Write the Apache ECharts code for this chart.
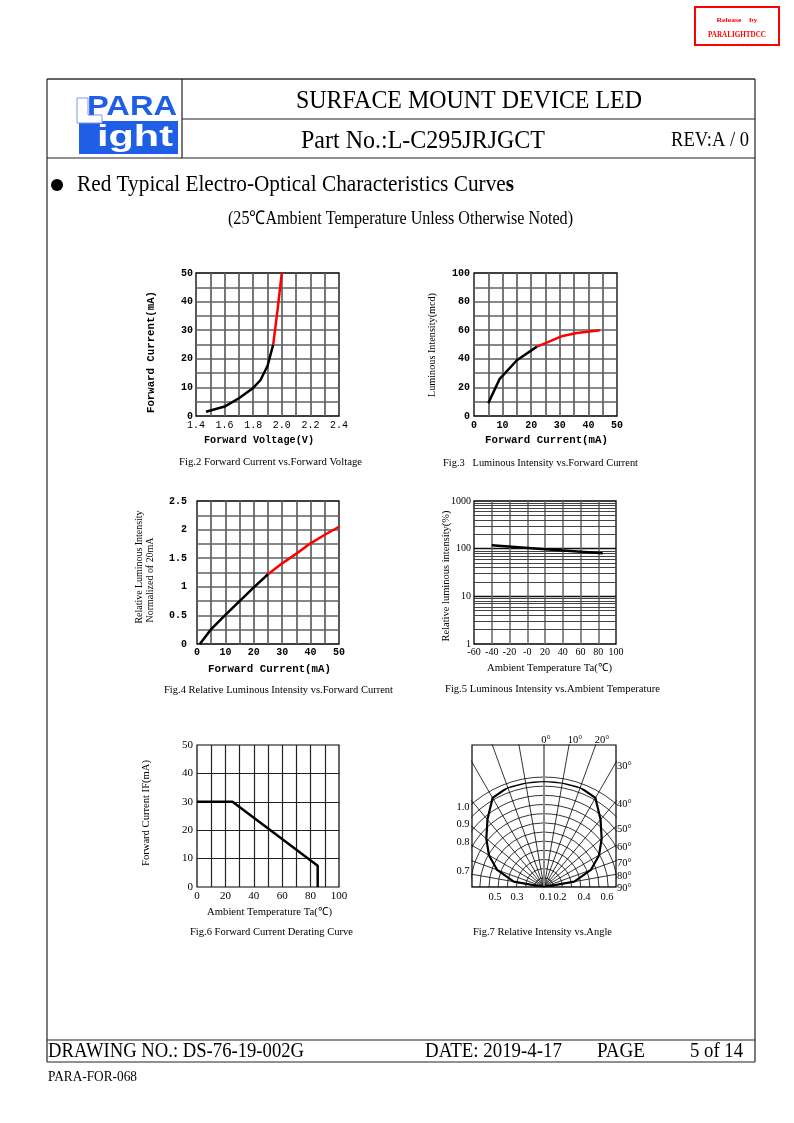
<!DOCTYPE html>
<html><head><meta charset="utf-8"><title>L-C295JRJGCT</title>
<script src="https://cdn.jsdelivr.net/npm/echarts@6/dist/echarts.min.js"></script>
<style>html,body{margin:0;padding:0;background:#fff;}#c{width:794px;height:1123px;}</style>
</head><body><div id="c"></div>
<script>
// ---------------- data ----------------
const fig2Black = [[1.47,1.5],[1.6,3.3],[1.7,6.2],[1.8,9.8],[1.85,12.5],[1.9,17.5],[1.94,25]];
const fig2Red = [[1.94,25],[1.97,37],[2.0,50]];
const fig3Black = [[5,9],[9,26],[15,39],[22,48.5]];
const fig3Red = [[22,48.5],[25,51],[31,56],[36,58],[44,60]];
const fig4Black = [[1,0],[5,0.26],[10,0.51],[15,0.75],[20,0.99],[25,1.22]];
const fig4Red = [[25,1.22],[30,1.41],[35,1.58],[40,1.76],[45,1.91],[50,2.05]];
const fig5Temp = [-40, 20, 85];
const fig5Intensity = [118, 97, 80];
const fig5MinorLines = [2,3,4,5,6,7,8,9,20,30,40,50,60,70,80,90,200,300,400,500,600,700,800,900];
const fig5XLabels = ['-60','-40','-20','-0','20','40','60','80','100'];
const fig5YLabels = ['1','10','100','1000'];
const fig6Temp = [0, 25, 85, 85];
const fig6Current = [30, 30, 7.5, 0];
const fig7Angles = [-90,-80,-70,-60,-50,-40,-30,-20,-10,0,10,20,30,40,50,60,70,80,90];
const fig7Intensity = [0,0.29,0.47,0.6,0.71,0.83,0.97,1,1,1,1,1,0.97,0.83,0.71,0.6,0.47,0.29,0];
const fig7TopLabels = ['0°','10°','20°'];
const fig7RightLabels = ['30°','40°','50°','60°','70°','80°','90°'];
const fig7LeftLabels = ['1.0','0.9','0.8','0.7'];
const fig7BottomLabels = ['0.5','0.3','0.1','0.2','0.4','0.6'];

// ---------------- helpers ----------------
const SERIF = '"Liberation Serif","Times New Roman",serif';
const MONO = '"Liberation Mono","DejaVu Sans Mono",monospace';
const SANS = '"Liberation Sans",Arial,sans-serif';
const mctx = document.createElement('canvas').getContext('2d');
function mw(t, f){ mctx.font = f; return mctx.measureText(t).width; }
function T(text, x, y, o){
  o = o || {};
  const size = o.size || 11, fam = o.fam || SERIF, wt = o.wt || 'normal';
  const font = wt + ' ' + size + 'px ' + fam;
  const sx = o.w ? o.w / mw(text, font) : 1;
  const al = o.align || 'center';
  return {type:'text', x:x, y:y, rotation:o.rot||0, scaleX:sx, z:100, silent:true,
    style:{text:text, font:font, fill:o.color||'#000', align:al, textAlign:al,
      verticalAlign:'middle', textVerticalAlign:'middle'}};
}
function L(x1,y1,x2,y2,w,c){
  return {type:'line', z:100, silent:true, shape:{x1:x1,y1:y1,x2:x2,y2:y2}, style:{stroke:c||'#222', lineWidth:w||1}};
}
function R(x,y,w,h,st,z){ return Object.assign({type:'rect', z:z||100, silent:true, shape:{x:x,y:y,width:w,height:h}}, {style:st}); }

function ax(gi, min, max, interval, o){
  o = o || {};
  const ls = {color:o.lc||'#606060', width:o.lw||1.7};
  return {gridIndex:gi, type:o.type||'value', min:min, max:max, interval:interval, logBase:o.logBase,
    axisLine:{show:false}, axisTick:{show:false},
    axisLabel:{show:true, color:'#000', fontFamily:o.fam||MONO, fontSize:o.fs||10, fontWeight:o.fw||'normal',
      margin:(o.margin==null?4:o.margin), formatter:o.fmt, hideOverlap:false, showMinLabel:true, showMaxLabel:true},
    splitLine:{show:true, showMinLine:false, showMaxLine:false, lineStyle:ls},
    minorTick:{show:false, splitNumber:o.minor||5},
    minorSplitLine:{show:!!o.minor, lineStyle:ls}
  };
}
function ser(gi, data, color, w, z){
  return {type:'line', xAxisIndex:gi, yAxisIndex:gi, data:data, symbol:'none', silent:true,
    lineStyle:{color:color, width:w||2.5}, z:z||5};
}
const zip = (a,b) => a.map((v,i)=>[v,b[i]]);

const gridBase = {show:true, borderColor:'#000', borderWidth:1.3, backgroundColor:'transparent', containLabel:false};
const grids = [
  Object.assign({left:196, top:273, width:143, height:143}, gridBase),
  Object.assign({left:474, top:273, width:143, height:143}, gridBase),
  Object.assign({left:197, top:501, width:142, height:143}, gridBase),
  Object.assign({left:474, top:501, width:142, height:143}, gridBase),
  Object.assign({left:197, top:745, width:142, height:142}, Object.assign({}, gridBase, {borderWidth:1.2}))
];

const xAxes = [
  ax(0, 1.4, 2.4, 0.2, {minor:2, fmt:v=>v.toFixed(1), margin:4}),
  ax(1, 0, 50, 10, {minor:2, fw:'bold', margin:4}),
  ax(2, 0, 50, 10, {minor:2, fw:'bold', margin:3}),
  ax(3, -60, 100, 20, {fam:SERIF, fs:10, margin:3, lc:'#666', lw:1.5, fmt:v=>fig5XLabels[Math.round((v+60)/20)]}),
  ax(4, 0, 100, 20, {minor:2, fam:SERIF, fs:11, margin:4, lc:'#222', lw:1.2})
];
const yAxes = [
  ax(0, 0, 50, 10, {minor:2, fw:'bold', margin:3}),
  ax(1, 0, 100, 20, {minor:2, fw:'bold', margin:4}),
  ax(2, 0, 2.5, 0.5, {minor:2, fw:'bold', margin:10}),
  ax(3, 1, 1000, undefined, {type:'log', logBase:10, fam:SERIF, fs:10, margin:3, lc:'#111', lw:1.4,
    fmt:v=>fig5YLabels[Math.round(Math.log10(v))]}),
  ax(4, 0, 50, 10, {fam:SERIF, fs:11, margin:4, lc:'#222', lw:1.2})
];

// ---------------- polar (Fig.7) ----------------
const PC = [544, 887];
const polar = [
  {center:PC, radius:160},   // radial lines
  {center:PC, radius:110},   // concentric arcs
  {center:PC, radius:106}    // intensity curve (1.0 = outer)
];
const angleAxis = [0,1,2].map(i => ({polarIndex:i, type:'value', min:-90, max:90, interval:10,
  startAngle:180, endAngle:0, clockwise:true,
  axisLine:{show:false}, axisTick:{show:false}, axisLabel:{show:false},
  splitLine:{show:i===0, lineStyle:{color:'#000', width:0.8}}}));
const radiusAxis = [
  {polarIndex:0, min:0, max:1, axisLine:{show:false}, axisTick:{show:false}, axisLabel:{show:false}, splitLine:{show:false}},
  {polarIndex:1, min:0, max:12, interval:1, axisLine:{show:false}, axisTick:{show:false}, axisLabel:{show:false},
    splitLine:{show:true, lineStyle:{color:'#000', width:0.8}}},
  {polarIndex:2, min:0, max:1, axisLine:{show:false}, axisTick:{show:false}, axisLabel:{show:false}, splitLine:{show:false}}
];

const series = [
  ser(0, fig2Black, '#000', 2.5), ser(0, fig2Red, '#ff0000', 2.5),
  ser(1, fig3Black, '#000', 2.5), ser(1, fig3Red, '#ff0000', 2.5),
  ser(2, fig4Black, '#000', 2.5), ser(2, fig4Red, '#ff0000', 2.5),
  {type:'line', xAxisIndex:3, yAxisIndex:3, data:zip(fig5Temp, fig5Intensity), symbol:'none', silent:true,
    lineStyle:{width:0, opacity:0}, z:1,
    markLine:{silent:true, animation:false, symbol:['none','none'], label:{show:false},
      lineStyle:{color:'#444', width:1, type:'solid'}, emphasis:{disabled:true},
      data:fig5MinorLines.map(v=>({yAxis:v}))}},
  ser(3, zip(fig5Temp, fig5Intensity), '#000', 2.5, 6),
  ser(4, zip(fig6Temp, fig6Current), '#000', 2.5),
  {type:'line', coordinateSystem:'polar', polarIndex:0, data:[[0,0],[1,0]], symbol:'none', silent:true,
    lineStyle:{color:'#8a8a8a', width:2}, z:3},
  {type:'line', coordinateSystem:'polar', polarIndex:2, data:fig7Angles.map((a,i)=>[fig7Intensity[i], a]),
    symbol:'none', silent:true, lineStyle:{color:'#000', width:2.2}, z:6}
];

// ---------------- graphic: page furniture & text ----------------
const G = [];
// masks around the Fig.7 box (clip the polar grid to the box)
const white = {fill:'#fff'};
G.push(R(380,715,91.4,185,white,50), R(616.6,715,100,185,white,50), R(470,715,150,29.4,white,50), R(380,887.7,340,115,white,50));
G.push(R(472,745,144,142,{fill:'none', stroke:'#000', lineWidth:1.2},60));

// release stamp
G.push(R(695,7,84,38,{fill:'none', stroke:'#ff0000', lineWidth:2}));
G.push(T('Release    by', 737, 20, {size:7, wt:'bold', color:'#ff0000', w:41}));
G.push(T('PARALIGHTDCC', 737, 35.5, {size:7.5, wt:'bold', color:'#ff0000', w:58}));

// frame
G.push(L(47,79,755,79,1.6,'#333'), L(47,79,47,1062,1.2), L(755,79,755,1062,1.2), L(182,79,182,158,1.2),
  L(182,119,755,119,1.2), L(47,158,755,158,1.2), L(47,1040,755,1040,1.2), L(47,1062,755,1062,1.2));

// logo
const BLUE = '#1f5fe6';
G.push({type:'polygon', z:100, silent:true, shape:{points:[[77,98],[88,98],[88,115],[102,115],[102,123],[77,123]]},
  style:{fill:'#fff', stroke:'#7d9be8', lineWidth:1}});
G.push(R(79,121,99,33,{fill:BLUE},99));
G.push(T('PARA', 87, 107.5, {size:28, wt:'bold', fam:SANS, color:BLUE, align:'left', w:90}));
G.push(T('ight', 97, 138, {size:30, wt:'bold', fam:SANS, color:'#fff', align:'left', w:76}));

// header text
G.push(T('SURFACE MOUNT DEVICE LED', 469, 101, {size:26, w:346}));
G.push(T('Part No.:L-C295JRJGCT', 423, 141, {size:26, w:244}));
G.push(T('REV:A / 0', 671, 140, {size:21, w:78, align:'left'}));

// section title
G.push({type:'circle', z:100, silent:true, shape:{cx:57, cy:185, r:6}, style:{fill:'#000'}});
(function(){
  const f1 = 'normal 24px ' + SERIF, f2 = 'bold 24px ' + SERIF;
  const a = mw('Red Typical Electro-Optical Characteristics Curve', f1), b = mw('s', f2);
  const sx = 437 / (a + b);
  const t1 = T('Red Typical Electro-Optical Characteristics Curve', 77, 185, {size:24, align:'left'}); t1.scaleX = sx;
  const t2 = T('s', 77 + a*sx, 185, {size:24, wt:'bold', align:'left'}); t2.scaleX = sx;
  G.push(t1, t2);
})();
G.push(T('(25\u2103Ambient Temperature Unless Otherwise Noted)', 400.5, 219, {size:19, w:345}));

// axis titles
G.push(T('Forward Current(mA)', 151, 352, {size:11, wt:'bold', fam:MONO, w:122, rot:Math.PI/2}));
G.push(T('Forward Voltage(V)', 259, 440, {size:11, wt:'bold', fam:MONO, w:110}));
G.push(T('Luminous Intensity(mcd)', 432, 345, {size:10.5, w:104, rot:Math.PI/2}));
G.push(T('Forward Current(mA)', 546.5, 440, {size:11, wt:'bold', fam:MONO, w:123}));
G.push(T('Relative Luminous Intensity', 139, 567, {size:10.5, w:113, rot:Math.PI/2}));
G.push(T('Normalized of 20mA', 150, 580, {size:10.5, w:85, rot:Math.PI/2}));
G.push(T('Forward Current(mA)', 269.5, 669, {size:11, wt:'bold', fam:MONO, w:123}));
G.push(T('Relative luminous intensity(%)', 446, 576, {size:10.5, w:131, rot:Math.PI/2}));
G.push(T('Ambient Temperature Ta(\u2103)', 549.5, 668, {size:11, w:125}));
G.push(T('Forward Current IF(mA)', 146, 813, {size:11, w:106, rot:Math.PI/2}));
G.push(T('Ambient Temperature Ta(\u2103)', 269.5, 912, {size:11, w:125}));

// captions
G.push(T('Fig.2 Forward Current vs.Forward Voltage', 270.5, 462, {size:11, w:183}));
G.push(T('Fig.3   Luminous Intensity vs.Forward Current', 540.5, 463, {size:11, w:195}));
G.push(T('Fig.4 Relative Luminous Intensity vs.Forward Current', 278.5, 690, {size:11, w:229}));
G.push(T('Fig.5 Luminous Intensity vs.Ambient Temperature', 552.5, 689, {size:11, w:215}));
G.push(T('Fig.6 Forward Current Derating Curve', 271.5, 932, {size:11, w:163}));
G.push(T('Fig.7 Relative Intensity vs.Angle', 542.5, 932, {size:11, w:139}));

// Fig.7 labels
const f7TopX = [546, 575, 602], f7RightY = [766, 804, 829, 847, 863, 876, 888];
const f7LeftY = [807, 824, 842, 871], f7BottomX = [495, 517, 546, 560, 584, 607];
fig7TopLabels.forEach((t,i)=>G.push(T(t, f7TopX[i], 740, {size:10.5})));
fig7RightLabels.forEach((t,i)=>G.push(T(t, 617, f7RightY[i], {size:10.5, align:'left'})));
fig7LeftLabels.forEach((t,i)=>G.push(T(t, 463, f7LeftY[i], {size:10.5})));
fig7BottomLabels.forEach((t,i)=>G.push(T(t, f7BottomX[i], 897, {size:10.5})));

// footer
G.push(T('DRAWING NO.: DS-76-19-002G', 48, 1051, {size:22, w:256, align:'left'}));
G.push(T('DATE: 2019-4-17', 425, 1051, {size:22, w:137, align:'left'}));
G.push(T('PAGE', 597, 1051, {size:22, w:48, align:'left'}));
G.push(T('5 of 14', 690, 1051, {size:22, w:53, align:'left'}));
G.push(T('PARA-FOR-068', 48, 1077, {size:14, w:89, align:'left'}));

const option = {
  animation:false,
  backgroundColor:'#fff',
  grid:grids, xAxis:xAxes, yAxis:yAxes,
  polar:polar, angleAxis:angleAxis, radiusAxis:radiusAxis,
  series:series,
  graphic:{elements:G}
};
const chart = echarts.init(document.getElementById('c'), null, {renderer:'canvas', width:794, height:1123});
chart.setOption(option);
</script></body></html>
